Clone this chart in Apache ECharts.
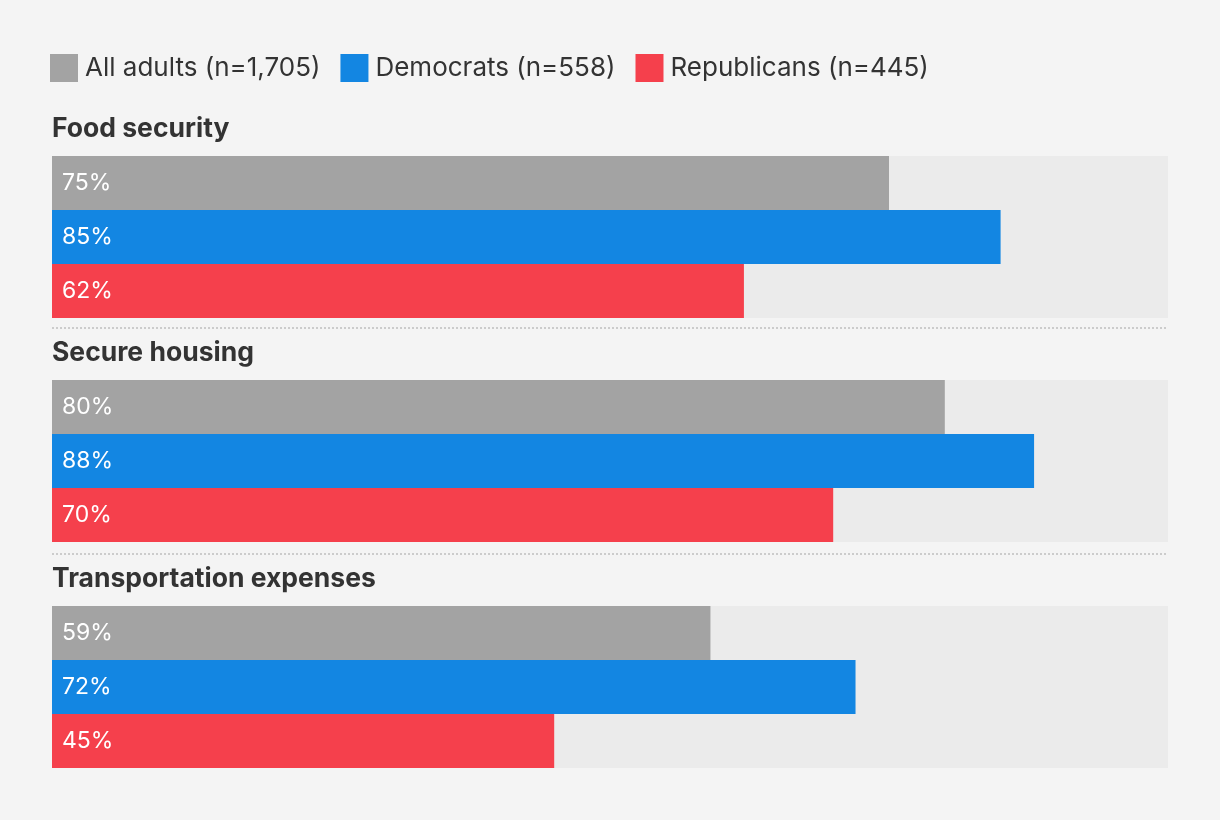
<!DOCTYPE html>
<html>
<head>
<meta charset="utf-8">
<script src="https://cdn.jsdelivr.net/npm/echarts@6/dist/echarts.min.js"></script>
<style>
html,body{margin:0;padding:0;background:#f4f4f4;}
#c{width:1220px;height:820px;}
</style>
</head>
<body>
<div id="c"></div>
<script>
const categories = ['Food security', 'Secure housing', 'Transportation expenses'];
const seriesNames = ['All adults (n=1,705)', 'Democrats (n=558)', 'Republicans (n=445)'];
const allAdults = [75, 80, 59];
const democrats = [85, 88, 72];
const republicans = [62, 70, 45];
const colors = ['#a3a3a3', '#1386e2', '#f5404c'];

const values = [allAdults, democrats, republicans];
const FONT = 'Inter, "Noto Sans", sans-serif';
const gridTops = [156, 380, 606];
const gridH = 162;

const grids = [], xAxes = [], yAxes = [], series = [], graphics = [];
categories.forEach((cat, g) => {
  grids.push({left: 52, width: 1116, top: gridTops[g], height: gridH});
  xAxes.push({gridIndex: g, type: 'value', min: 0, max: 100, show: false});
  yAxes.push({gridIndex: g, type: 'category', data: seriesNames, inverse: true, show: false});
  seriesNames.forEach((name, s) => {
    const d = seriesNames.map((_, i) => i === s ? values[s][g] : '-');
    series.push({
      type: 'bar', name: name, xAxisIndex: g, yAxisIndex: g,
      data: d, barWidth: 54, barGap: '-100%',
      itemStyle: {color: colors[s]},
      showBackground: true,
      backgroundStyle: {color: '#ebebeb'},
      label: {show: true, position: 'insideLeft', distance: 10, color: '#fff',
        fontSize: 23, fontFamily: FONT, formatter: '{c}%'},
      silent: true, animation: false
    });
  });
  graphics.push({type: 'text', left: 52, top: gridTops[g] - 40,
    style: {text: cat, font: 'bold 26.5px ' + FONT, fill: '#333'}});
  if (g > 0) {
    const y = gridTops[g] - 52;
    graphics.push({type: 'line', shape: {x1: 52, y1: y, x2: 1168, y2: y},
      style: {stroke: '#cccccc', lineWidth: 2, lineDash: [2, 2]}});
  }
});

const chart = echarts.init(document.getElementById('c'));
chart.setOption({
  backgroundColor: '#f4f4f4',
  animation: false,
  legend: {
    left: 50, top: 54, padding: 0, itemWidth: 28, itemHeight: 28, itemGap: 20,
    icon: 'rect', data: seriesNames,
    textStyle: {fontSize: 26, color: '#333', fontFamily: FONT, padding: [0, 0, 0, 2]},
    selectedMode: false
  },
  grid: grids, xAxis: xAxes, yAxis: yAxes, series: series, graphic: graphics
});
</script>
</body>
</html>
